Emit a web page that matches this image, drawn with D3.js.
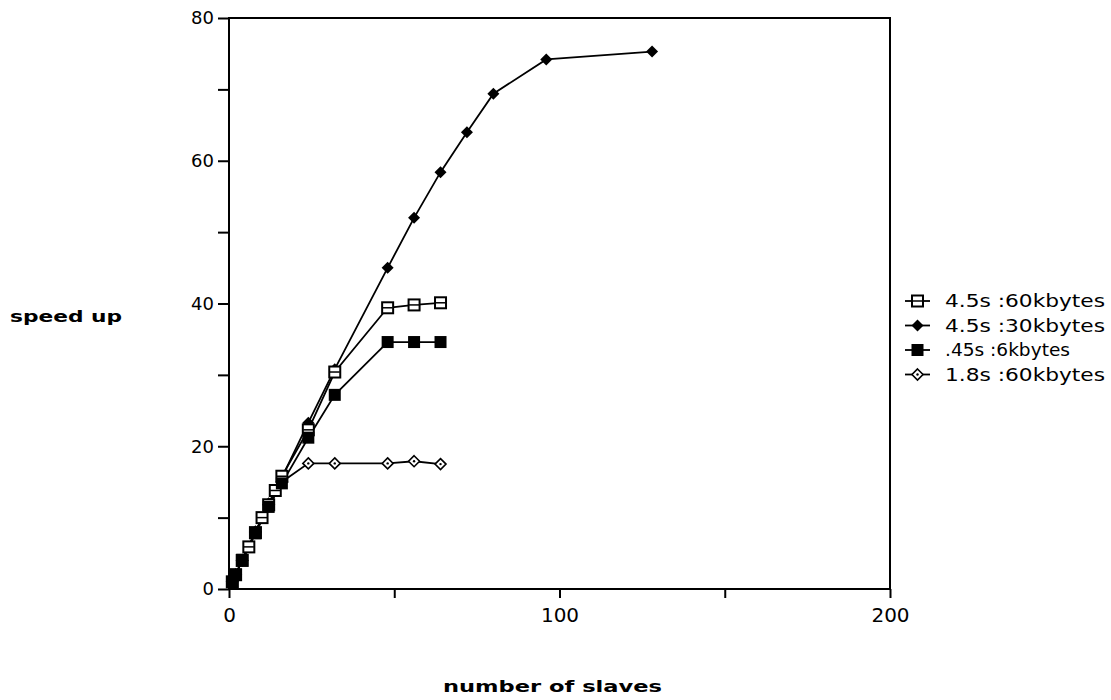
<!DOCTYPE html>
<html><head><meta charset="utf-8">
<script src="https://cdn.jsdelivr.net/npm/d3@7"></script>
<style>body{margin:0;background:#fff}svg{display:block}</style>
</head><body>
<script>
// ---- data ----
const xTicks = [0, 50, 100, 150, 200];
const xTickLabels = ["0", "", "100", "", "200"];
const yTicks = [0, 10, 20, 30, 40, 50, 60, 70, 80];
const yTickLabels = ["0", "", "20", "", "40", "", "60", "", "80"];

const seriesNames = ["4.5s :60kbytes", "4.5s :30kbytes", ".45s :6kbytes", "1.8s :60kbytes"];
const xA = [1, 2, 4, 6, 8, 10, 12, 14, 16, 24, 32, 48, 56, 64];
const yA = [1, 2, 4, 5.9, 7.9, 10, 11.8, 13.8, 15.8, 22.3, 30.4, 39.4, 39.8, 40.1];
const xB = [1, 2, 4, 8, 12, 16, 24, 32, 48, 56, 64, 72, 80, 96, 128];
const yB = [1, 2, 4, 8, 12, 15.6, 23.3, 30.8, 45, 52, 58.4, 64, 69.4, 74.2, 75.3];
const xC = [1, 2, 4, 8, 12, 16, 24, 32, 48, 56, 64];
const yC = [1, 2, 4.1, 7.8, 11.5, 14.8, 21.2, 27.2, 34.6, 34.6, 34.6];
const xD = [1, 2, 4, 8, 12, 16, 24, 32, 48, 56, 64];
const yD = [1, 2, 4, 8, 11.8, 15, 17.6, 17.6, 17.6, 17.9, 17.5];

const W = 1111, H = 700;
const svg = d3.select("body").append("svg").attr("width", W).attr("height", H);
const x = d3.scaleLinear().domain([0, 200]).range([229, 890]);
const y = d3.scaleLinear().domain([0, 80]).range([589, 18]);
const font = "'DejaVu Sans', sans-serif";

// frame
svg.append("rect").attr("x", x(0)).attr("y", y(80)).attr("width", x(200) - x(0)).attr("height", y(0) - y(80))
  .attr("fill", "none").attr("stroke", "#000").attr("stroke-width", 2);

// axes
const xAxis = d3.axisBottom(x).tickValues(xTicks).tickSize(9).tickSizeOuter(0)
  .tickFormat((d, i) => xTickLabels[i]);
const gx = svg.append("g").attr("transform", `translate(0,${y(0)})`).call(xAxis);
gx.select(".domain").remove();
gx.selectAll(".tick line").attr("stroke", "#000").attr("stroke-width", 2);
gx.selectAll(".tick text").attr("font-family", font).attr("font-size", 20).attr("fill", "#000").attr("dy", "1.05em");

const yAxis = d3.axisLeft(y).tickValues(yTicks).tickSize(11).tickSizeOuter(0)
  .tickFormat((d, i) => yTickLabels[i]);
const gy = svg.append("g").attr("transform", `translate(${x(0)},0)`).call(yAxis);
gy.select(".domain").remove();
gy.selectAll(".tick line").attr("stroke", "#000").attr("stroke-width", 2);
gy.selectAll(".tick text").attr("font-family", font).attr("font-size", 18).attr("fill", "#000").attr("x", -15);

// axis titles
svg.append("text").attr("x", 10).attr("y", 322).text("speed up")
  .attr("font-family", font).attr("font-weight", "bold").attr("font-size", 16)
  .attr("textLength", 112).attr("lengthAdjust", "spacingAndGlyphs");
svg.append("text").attr("x", 443).attr("y", 692).text("number of slaves")
  .attr("font-family", font).attr("font-weight", "bold").attr("font-size", 16)
  .attr("textLength", 219).attr("lengthAdjust", "spacingAndGlyphs");

// series
const series = [
  {name: seriesNames[0], xs: xA, ys: yA, m: "osq"},
  {name: seriesNames[1], xs: xB, ys: yB, m: "fdi"},
  {name: seriesNames[2], xs: xC, ys: yC, m: "fsq"},
  {name: seriesNames[3], xs: xD, ys: yD, m: "odi"}
];

function marker(g, type, cx, cy) {
  if (type === "osq") {
    g.append("rect").attr("x", cx - 5.5).attr("y", cy - 5.5).attr("width", 11).attr("height", 11)
      .attr("fill", "#fff").attr("stroke", "#000").attr("stroke-width", 2);
    g.append("line").attr("x1", cx - 5).attr("x2", cx + 5).attr("y1", cy).attr("y2", cy).attr("stroke", "#000").attr("stroke-width", 1.5);
  } else if (type === "fsq") {
    g.append("rect").attr("x", cx - 6).attr("y", cy - 6).attr("width", 12).attr("height", 12).attr("fill", "#000");
  } else if (type === "fdi") {
    g.append("path").attr("d", `M${cx},${cy - 6}L${cx + 6},${cy}L${cx},${cy + 6}L${cx - 6},${cy}Z`).attr("fill", "#000");
  } else {
    g.append("path").attr("d", `M${cx},${cy - 5.5}L${cx + 5.5},${cy}L${cx},${cy + 5.5}L${cx - 5.5},${cy}Z`)
      .attr("fill", "#fff").attr("stroke", "#000").attr("stroke-width", 1.6);
    g.append("circle").attr("cx", cx).attr("cy", cy).attr("r", 1.2).attr("fill", "#000");
  }
}

const line = d3.line();
const order = [3, 1, 0, 2];
order.forEach(i => {
  const s = series[i];
  const pts = s.xs.map((v, k) => [x(v), y(s.ys[k])]);
  svg.append("path").attr("d", line(pts)).attr("fill", "none").attr("stroke", "#000").attr("stroke-width", 1.8);
});
order.forEach(i => {
  const s = series[i];
  const g = svg.append("g");
  s.xs.forEach((v, k) => marker(g, s.m, x(v), y(s.ys[k])));
});

// legend
const lg = svg.append("g");
series.forEach((s, i) => {
  const ly = 301 + i * 24.5;
  lg.append("line").attr("x1", 905).attr("x2", 930).attr("y1", ly).attr("y2", ly).attr("stroke", "#000").attr("stroke-width", 1.8);
  marker(lg, s.m, 917.5, ly);
  lg.append("text").attr("x", 945).attr("y", ly + 6).text(s.name)
    .attr("font-family", font).attr("font-size", 17)
    .attr("textLength", i === 2 ? 125 : 160).attr("lengthAdjust", "spacingAndGlyphs");
});
</script>
</body></html>
